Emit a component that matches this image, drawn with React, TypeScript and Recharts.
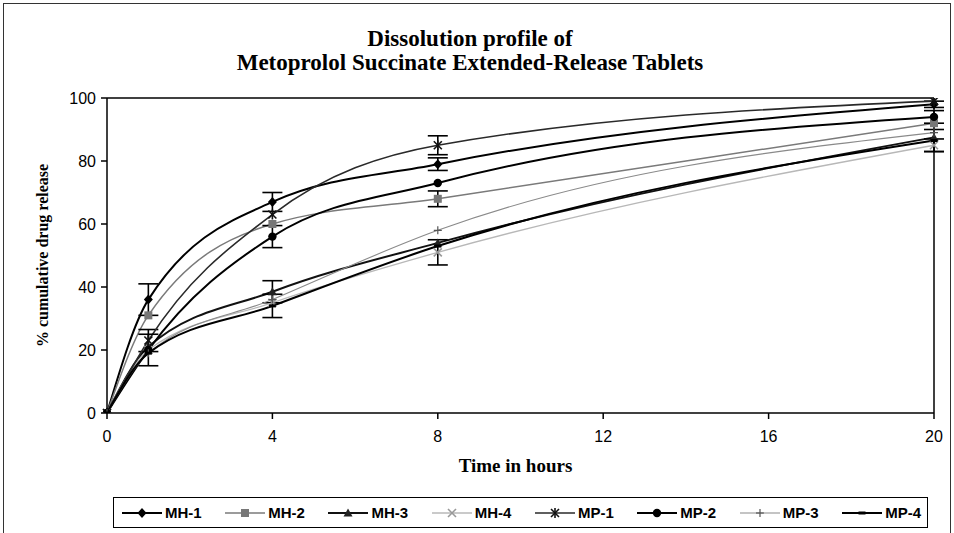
import React from 'react';
import { LineChart, Line, XAxis, YAxis, ErrorBar, ReferenceLine, Label } from 'recharts';

const times = [0, 1, 4, 8, 20];
const xTicks = [0, 4, 8, 12, 16, 20];
const yTicks = [0, 20, 40, 60, 80, 100];

const mh1 = [0, 36, 67, 79, 98];
const mh2 = [0, 31, 60, 68, 92];
const mh3 = [0, 21, 38.5, 54, 87.5];
const mh4 = [0, 20, 35, 51, 85];
const mp1 = [0, 23, 63, 85, 99];
const mp2 = [0, 20, 56, 73, 94];
const mp3 = [0, 19, 36, 58, 89];
const mp4 = [0, 19, 34, 53, 86.5];

const mh1Err = [null, 5, 3, 2, 1];
const mh2Err = [null, null, null, 2.5, null];
const mh3Err = [null, null, 3.5, null, null];
const mh4Err = [null, null, null, 4, 2];
const mp1Err = [null, 3.5, null, 3, null];
const mp2Err = [null, 5, 3.5, null, 2];
const mp3Err = [null, null, null, null, null];
const mp4Err = [null, null, 3.7, null, 3.5];

const seriesNames = ['MH-1', 'MH-2', 'MH-3', 'MH-4', 'MP-1', 'MP-2', 'MP-3', 'MP-4'];
const seriesValues = [mh1, mh2, mh3, mh4, mp1, mp2, mp3, mp4];
const seriesErrors = [mh1Err, mh2Err, mh3Err, mh4Err, mp1Err, mp2Err, mp3Err, mp4Err];

const styles = [
  { color: '#000', width: 2, shape: 'diamond', markColor: '#000' },
  { color: '#7a7a7a', width: 1.5, shape: 'square', markColor: '#777' },
  { color: '#111', width: 2, shape: 'triangle', markColor: '#222' },
  { color: '#b8b8b8', width: 1.3, shape: 'xmark', markColor: '#999' },
  { color: '#2a2a2a', width: 1.6, shape: 'star', markColor: '#111' },
  { color: '#000', width: 2, shape: 'circle', markColor: '#000' },
  { color: '#8a8a8a', width: 1.1, shape: 'plus', markColor: '#555' },
  { color: '#000', width: 2, shape: 'dash', markColor: '#000' },
];

const data = times.map((t, i) => {
  const row: any = { t };
  seriesNames.forEach((n, k) => {
    row[n] = seriesValues[k][i];
    row[n + '_err'] = seriesErrors[k][i];
  });
  return row;
});

function Marker({ shape, cx, cy, color }: { shape: string; cx: number; cy: number; color: string }) {
  const s = 4.5;
  switch (shape) {
    case 'diamond':
      return <polygon points={`${cx},${cy - s - 0.5} ${cx + s},${cy} ${cx},${cy + s + 0.5} ${cx - s},${cy}`} fill={color} />;
    case 'square':
      return <rect x={cx - 4} y={cy - 4} width={8} height={8} fill={color} />;
    case 'triangle':
      return <polygon points={`${cx},${cy - s} ${cx + s},${cy + s - 1} ${cx - s},${cy + s - 1}`} fill={color} />;
    case 'xmark':
      return (
        <g stroke={color} strokeWidth={1.6}>
          <line x1={cx - 4} y1={cy - 4} x2={cx + 4} y2={cy + 4} />
          <line x1={cx - 4} y1={cy + 4} x2={cx + 4} y2={cy - 4} />
        </g>
      );
    case 'star':
      return (
        <g stroke={color} strokeWidth={1.6}>
          <line x1={cx - 4} y1={cy - 4} x2={cx + 4} y2={cy + 4} />
          <line x1={cx - 4} y1={cy + 4} x2={cx + 4} y2={cy - 4} />
          <line x1={cx} y1={cy - 5} x2={cx} y2={cy + 5} />
        </g>
      );
    case 'circle':
      return <circle cx={cx} cy={cy} r={4.2} fill={color} />;
    case 'plus':
      return (
        <g stroke={color} strokeWidth={1.2}>
          <line x1={cx - 4} y1={cy} x2={cx + 4} y2={cy} />
          <line x1={cx} y1={cy - 4} x2={cx} y2={cy + 4} />
        </g>
      );
    case 'dash':
      return <rect x={cx - 3.5} y={cy - 1.5} width={7} height={3} fill={color} />;
    default:
      return null;
  }
}

const makeDot = (shape: string, color: string) => (props: any) => {
  const { cx, cy, index } = props;
  if (cx == null || cy == null) return <g key={index} />;
  return (
    <g key={index}>
      <Marker shape={shape} cx={cx} cy={cy} color={color} />
    </g>
  );
};

const renderYLabel = (props: any) => {
  const vb = props.viewBox || {};
  const x = (vb.x ?? 0) + 35;
  const y = (vb.y ?? 0) + (vb.height ?? 0) / 2;
  return (
    <text
      x={x}
      y={y}
      transform={`rotate(-90, ${x}, ${y})`}
      textAnchor="middle"
      dominantBaseline="central"
      style={{ fontFamily: '"Liberation Serif", "Times New Roman", serif', fontWeight: 'bold', fontSize: 16, fill: '#000' }}
    >
      % cumulative drug release
    </text>
  );
};

const renderXLabel = (props: any) => {
  const vb = props.viewBox || {};
  const x = (vb.x ?? 0) + (vb.width ?? 0) / 2 - 5;
  const y = (vb.y ?? 0) + 52;
  return (
    <text
      x={x}
      y={y}
      textAnchor="middle"
      dominantBaseline="central"
      style={{ fontFamily: '"Liberation Serif", "Times New Roman", serif', fontWeight: 'bold', fontSize: 19, fill: '#000' }}
    >
      Time in hours
    </text>
  );
};

const tickStyle = { fontFamily: '"Liberation Sans", Arial, sans-serif', fontSize: 16, fill: '#000' };

export default function App() {
  return (
    <div style={{ position: 'absolute', left: 0, top: 0, width: 954, height: 533, background: '#fff', overflow: 'hidden' }}>
      <div style={{ position: 'absolute', left: 3, top: 3, width: 946, height: 540, border: '1.5px solid #333' }} />
      <div
        style={{
          position: 'absolute',
          left: 0,
          top: 27,
          width: 940,
          textAlign: 'center',
          fontFamily: '"Liberation Serif", "Times New Roman", serif',
          fontWeight: 'bold',
          fontSize: 23,
          lineHeight: '24px',
          color: '#000',
        }}
      >
        <div>Dissolution profile of</div>
        <div>Metoprolol Succinate Extended-Release Tablets</div>
      </div>
      <div style={{ position: 'absolute', left: 0, top: 0 }}>
        <LineChart width={954} height={533} data={data} margin={{ top: 98, right: 20, bottom: 60, left: 7 }}>
          <XAxis
            dataKey="t"
            type="number"
            domain={[0, 20]}
            ticks={xTicks}
            height={60}
            tick={tickStyle}
            tickSize={6}
            tickMargin={12}
            stroke="#000"
            strokeWidth={1.5}
            interval={0}
          >
            <Label content={renderXLabel} />
          </XAxis>
          <YAxis
            type="number"
            domain={[0, 100]}
            ticks={yTicks}
            width={100}
            tick={tickStyle}
            tickSize={6}
            tickMargin={5}
            stroke="#000"
            strokeWidth={1.5}
            allowDataOverflow
            interval={0}
          >
            <Label content={renderYLabel} />
          </YAxis>
          <ReferenceLine y={100} stroke="#000" strokeWidth={1.5} />
          <ReferenceLine x={20} stroke="#000" strokeWidth={1.5} />
          {seriesNames.map((n, k) => (
            <Line
              key={n}
              dataKey={n}
              name={n}
              type="monotone"
              stroke={styles[k].color}
              strokeWidth={styles[k].width}
              dot={makeDot(styles[k].shape, styles[k].markColor)}
              activeDot={false}
              isAnimationActive={false}
            >
              <ErrorBar dataKey={n + '_err'} width={10} strokeWidth={1.6} stroke="#000" direction="y" />
            </Line>
          ))}
        </LineChart>
      </div>
      <div
        style={{
          position: 'absolute',
          left: 113,
          top: 497,
          width: 815,
          height: 31,
          border: '1.5px solid #000',
          boxSizing: 'border-box',
          display: 'flex',
          alignItems: 'center',
          justifyContent: 'space-between',
          padding: '0 6px 0 8px',
          fontFamily: '"Liberation Sans", Arial, sans-serif',
          fontWeight: 'bold',
          fontSize: 15,
          color: '#000',
        }}
      >
        {seriesNames.map((n, k) => (
          <div key={n} style={{ display: 'flex', alignItems: 'center' }}>
            <svg width={40} height={14} style={{ display: 'block' }}>
              <line x1={0} y1={7} x2={40} y2={7} stroke={styles[k].color} strokeWidth={styles[k].width} />
              <Marker shape={styles[k].shape} cx={20} cy={7} color={styles[k].markColor} />
            </svg>
            <span style={{ marginLeft: 3 }}>{n}</span>
          </div>
        ))}
      </div>
    </div>
  );
}
